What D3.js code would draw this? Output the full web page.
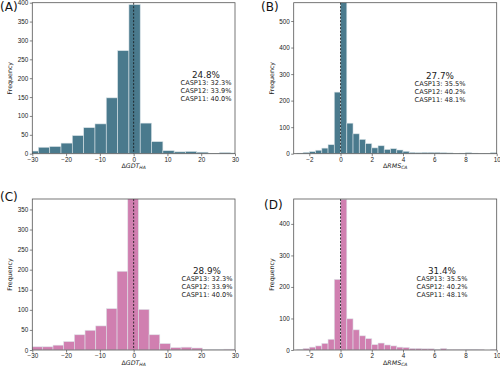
<!DOCTYPE html>
<html>
<head>
<meta charset="utf-8">
<script src="https://cdn.jsdelivr.net/npm/d3@7"></script>
<style>
  body { margin: 0; background: #fff; }
  svg { font-family: "DejaVu Sans", sans-serif; }
</style>
</head>
<body>
<div id="chart"></div>
<script>
// histogram counts
var gdtEdgesA = [-31.55, -28.2, -24.85, -21.5, -18.15, -14.8, -11.45, -8.1, -4.75, -1.4,
                 1.95, 5.3, 8.65, 12.0, 15.35, 18.7, 22.05, 25.4, 28.75, 32.1];
var gdtCountsA = [7, 17, 19, 28, 48, 69, 79, 148, 273, 395, 81, 32, 8, 5, 6, 4, 1, 3, 2];

var gdtEdgesC = [-30.19, -27.03, -23.87, -20.71, -17.55, -14.39, -11.23, -8.07, -4.91, -1.75,
                 1.41, 4.57, 7.73, 10.89, 14.05, 17.21, 20.37, 23.53, 26.69, 29.85];
var gdtCountsC = [8, 8, 12, 21, 38, 49, 60, 103, 196, 420, 101, 38, 16, 6, 7, 5, 1, 1, 2];

var rmsBinStart = -2.8, rmsBinWidth = 0.4;
var rmsCountsB = [2, 5, 8, 13, 21, 34, 232, 600, 115, 75, 54, 38, 22, 30, 16, 19,
                  14, 9, 5, 4, 5, 5, 5, 4, 3, 1, 2, 4, 2, 1, 1, 4];
var rmsCountsD = [2, 5, 9, 13, 21, 34, 224, 478, 99, 64, 45, 36, 17, 22, 16, 13,
                  9, 8, 5, 5, 4, 4, 2, 5, 1, 1, 1, 2, 2, 1, 0, 1];

var gdtTicks = [-30, -20, -10, 0, 10, 20, 30];
var rmsTicks = [-2, 0, 2, 4, 6, 8, 10];

var casp = {
  gdt: ["CASP13: 32.3%", "CASP12: 33.9%", "CASP11: 40.0%"],
  rms: ["CASP13: 35.5%", "CASP12: 40.2%", "CASP11: 48.1%"]
};

var teal = "#4a7a8d", pink = "#d07fb0";

var svg = d3.select("#chart").append("svg")
    .attr("width", 500)
    .attr("height", 367);

function rmsEdges() {
  return d3.range(rmsCountsB.length + 1).map(function(i) { return rmsBinStart + i * rmsBinWidth; });
}

var panels = [
  {id: "A", x0: 32.3, x1: 235, y0: 2.7, y1: 153.7, xdom: [-30, 30], ymax: 400, yticks: d3.range(0, 401, 50),
   xticks: gdtTicks, edges: gdtEdgesA, counts: gdtCountsA, color: teal, kind: "gdt", pct: "24.8%",
   tx: 206, ty: 75, lx: 0, ly: 11},
  {id: "B", x0: 293.7, x1: 496.7, y0: 2.7, y1: 153.7, xdom: [-3, 10], ymax: 569, yticks: d3.range(0, 501, 100),
   xticks: rmsTicks, edges: rmsEdges(), counts: rmsCountsB, color: teal, kind: "rms", pct: "27.7%",
   tx: 440, ty: 76, lx: 261, ly: 11},
  {id: "C", x0: 32.3, x1: 235, y0: 199, y1: 350, xdom: [-30, 30], ymax: 376, yticks: d3.range(0, 351, 50),
   xticks: gdtTicks, edges: gdtEdgesC, counts: gdtCountsC, color: pink, kind: "gdt", pct: "28.9%",
   tx: 207, ty: 271, lx: 0, ly: 201},
  {id: "D", x0: 293.7, x1: 496.7, y0: 199, y1: 350, xdom: [-3, 10], ymax: 479, yticks: d3.range(0, 401, 100),
   xticks: rmsTicks, edges: rmsEdges(), counts: rmsCountsD, color: pink, kind: "rms", pct: "31.4%",
   tx: 442, ty: 271, lx: 264, ly: 209}
];

panels.forEach(function(p) {
  var x = d3.scaleLinear().domain(p.xdom).range([p.x0, p.x1]);
  var y = d3.scaleLinear().domain([0, p.ymax]).range([p.y1, p.y0]);

  svg.append("clipPath").attr("id", "clip" + p.id)
    .append("rect")
    .attr("x", p.x0).attr("y", p.y0)
    .attr("width", p.x1 - p.x0).attr("height", p.y1 - p.y0);

  var bins = p.counts.map(function(c, i) { return {a: p.edges[i], b: p.edges[i + 1], c: c}; });

  svg.append("g").attr("clip-path", "url(#clip" + p.id + ")")
    .selectAll("rect").data(bins).enter().append("rect")
    .attr("x", function(d) { return x(d.a); })
    .attr("width", function(d) { return x(d.b) - x(d.a); })
    .attr("y", function(d) { return y(d.c); })
    .attr("height", function(d) { return y(0) - y(d.c); })
    .attr("fill", p.color)
    .attr("stroke", "#dde6ea")
    .attr("stroke-opacity", 0.8)
    .attr("stroke-width", 0.7);

  // zero line
  svg.append("line")
    .attr("x1", x(0)).attr("x2", x(0))
    .attr("y1", p.y0).attr("y2", p.y1)
    .attr("stroke", "#111")
    .attr("stroke-width", 0.8)
    .attr("stroke-dasharray", "2,1.5");

  var xAxis = svg.append("g")
    .attr("transform", "translate(0," + p.y1 + ")")
    .call(d3.axisBottom(x).tickValues(p.xticks).tickSize(2.5).tickPadding(1.5)
      .tickFormat(function(d) { return d < 0 ? "\u2212" + Math.abs(d) : d; }));
  var yAxis = svg.append("g")
    .attr("transform", "translate(" + p.x0 + ",0)")
    .call(d3.axisLeft(y).tickValues(p.yticks).tickSize(2.5).tickPadding(1.5));

  [xAxis, yAxis].forEach(function(g) {
    g.select(".domain").remove();
    g.selectAll("text").attr("font-size", 6.3).attr("fill", "#222");
    g.selectAll("line").attr("stroke", "#333").attr("stroke-width", 0.6);
  });

  // frame
  svg.append("rect")
    .attr("x", p.x0).attr("y", p.y0)
    .attr("width", p.x1 - p.x0).attr("height", p.y1 - p.y0)
    .attr("fill", "none")
    .attr("stroke", "#555")
    .attr("stroke-width", 0.8);

  // axis labels
  var xl = svg.append("text")
    .attr("x", (p.x0 + p.x1) / 2).attr("y", p.y1 + 14.5)
    .attr("text-anchor", "middle")
    .attr("font-size", 6.3)
    .attr("fill", "#222");
  xl.append("tspan").text("\u0394");
  xl.append("tspan").attr("font-style", "italic").text(p.kind == "gdt" ? "GDT" : "RMS");
  xl.append("tspan").attr("font-style", "italic").attr("font-size", 4.5).attr("dy", 1.2)
    .text(p.kind == "gdt" ? "HA" : "CA");

  svg.append("text")
    .attr("transform", "translate(" + (p.x0 - 20) + "," + ((p.y0 + p.y1) / 2) + ") rotate(-90)")
    .attr("text-anchor", "middle")
    .attr("font-size", 6.3)
    .attr("fill", "#222")
    .text("Frequency");

  // annotation
  svg.append("text")
    .attr("x", p.tx).attr("y", p.ty + 3)
    .attr("text-anchor", "middle")
    .attr("font-size", 8.8)
    .attr("fill", "#222")
    .text(p.pct);
  svg.selectAll(null).data(casp[p.kind]).enter().append("text")
    .attr("x", p.tx)
    .attr("y", function(d, i) { return p.ty + 9.5 + i * 8.2; })
    .attr("text-anchor", "middle")
    .attr("font-size", 6.6)
    .attr("fill", "#222")
    .text(function(d) { return d; });

  svg.append("text")
    .attr("x", p.lx).attr("y", p.ly)
    .attr("font-size", 12)
    .attr("fill", "#111")
    .text("(" + p.id + ")");
});
</script>
</body>
</html>
